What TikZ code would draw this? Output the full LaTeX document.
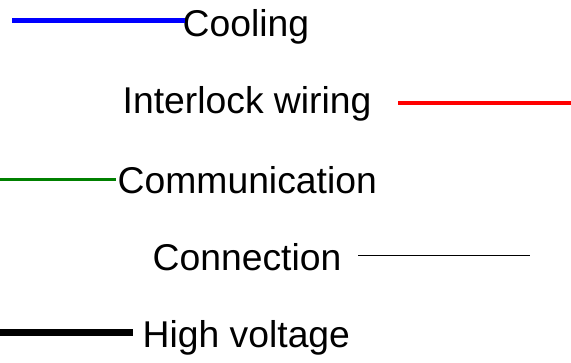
\documentclass[tikz,border=0pt]{standalone}
\usepackage{fontspec}
\setmainfont{Liberation Sans}
\usepackage{xcolor}
\definecolor{cCool}{HTML}{0000FF}
\definecolor{cLock}{HTML}{FF0000}
\definecolor{cComm}{HTML}{008000}
\definecolor{cLine}{HTML}{000000}
\usepackage{tikz}
\usetikzlibrary{positioning}
\tikzset{
  legend-label/.style={inner sep=0pt,anchor=base west,text=black,
    font=\fontsize{37.3}{44}\selectfont},
  line-cool/.style={line width=4.5pt,draw=cCool},
  line-lock/.style={line width=3.5pt,draw=cLock},
  line-comm/.style={line width=3.5pt,draw=cComm},
  line-conn/.style={line width=1.3pt,draw=cLine},
  line-hv/.style={line width=7pt,draw=cLine},
}

\begin{document}
\begin{tikzpicture}[x=1pt,y=-1pt]
  \useasboundingbox (0,0) rectangle (571,362);
  \node[legend-label] (cool) at (182.5,36)  {Cooling};
  \node[legend-label] (lock) at (122.5,113) {Interlock wiring};
  \node[legend-label] (comm) at (117.5,193) {Communication};
  \node[legend-label] (conn) at (152.5,270) {Connection};
  \node[legend-label] (hv)   at (142.5,347) {High voltage};
  \coordinate (cool-a) at (12,20.7);
  \coordinate (cool-b) at (185,20.7);
  \coordinate (lock-a) at (398,103);
  \coordinate (lock-b) at (571,103);
  \coordinate (comm-a) at (0,179.3);
  \coordinate (comm-b) at (116,179.3);
  \coordinate (conn-a) at (358,255.3);
  \coordinate (conn-b) at (530,255.3);
  \coordinate (hv-a)   at (0,332.7);
  \coordinate (hv-b)   at (132.7,332.7);
  \draw[line-cool] (cool-a) -- (cool-b);
  \draw[line-lock] (lock-a) -- (lock-b);
  \draw[line-comm] (comm-a) -- (comm-b);
  \draw[line-conn] (conn-a) -- (conn-b);
  \draw[line-hv]   (hv-a) -- (hv-b);
\end{tikzpicture}
\end{document}
